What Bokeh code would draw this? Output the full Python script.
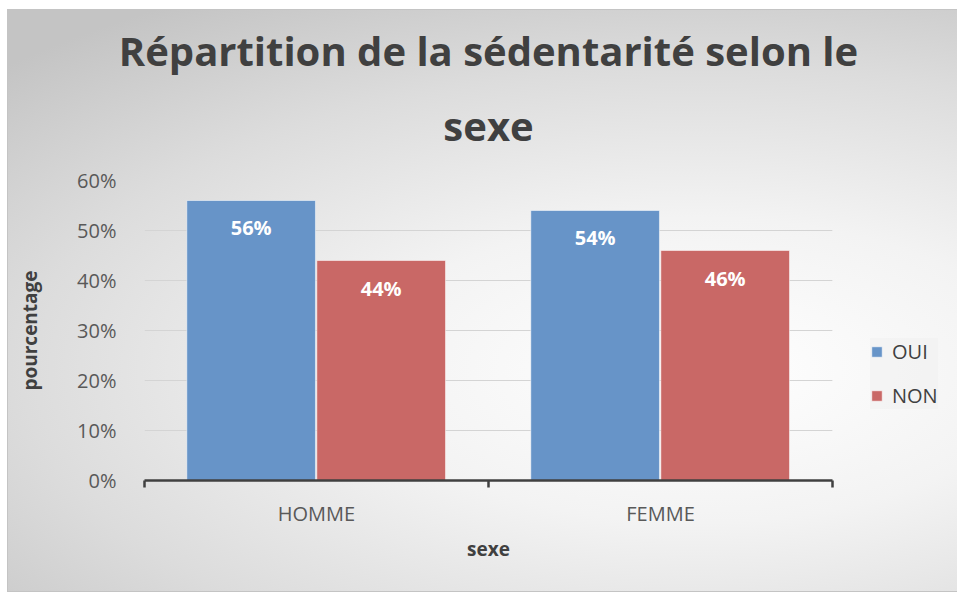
from bokeh.plotting import figure
from bokeh.models import (ColumnDataSource, FactorRange, Range1d, LinearAxis, CategoricalAxis,
                          FixedTicker, NumeralTickFormatter, Legend, LegendItem, Title, Grid)
from bokeh.transform import dodge
from bokeh.core.properties import value
from bokeh.embed import file_html
from bokeh.resources import INLINE

# ---- data ----
sexes = ["HOMME", "FEMME"]
oui = [0.56, 0.54]
non = [0.44, 0.46]
oui_labels = ["56%", "54%"]
non_labels = ["44%", "46%"]
y_ticks = [0, 0.1, 0.2, 0.3, 0.4, 0.5, 0.6]
title_line1 = "Répartition de la sédentarité selon le"
title_line2 = "sexe"

BLUE = "#6794c8"
RED = "#c96866"
FONT = "Open Sans"

src = ColumnDataSource(dict(sexe=sexes, oui=oui, non=non, oui_lab=oui_labels, non_lab=non_labels))

p = figure(width=950, height=583, x_range=FactorRange(*sexes), y_range=Range1d(0, 0.6),
           output_backend="svg", toolbar_location=None, x_axis_location=None,
           y_axis_location=None, title=None)
p.frame_width = 688
p.frame_height = 300
p.min_border_left = 136
p.min_border_right = 124
p.min_border_top = 170
p.min_border_bottom = 111
p.background_fill_alpha = 0
p.border_fill_alpha = 0
p.outline_line_color = None
p.styles = {"background": "radial-gradient(ellipse 70% 75% at 50% 62%, #ffffff 0%, #f3f3f3 35%, #dcdcdc 70%, #c4c4c4 100%)",
            "border": "1px solid #c4c4c4", "box-sizing": "border-box",
            "margin-left": "7px", "margin-top": "9px"}

# bars
r_oui = p.vbar(x=dodge("sexe", -0.19, range=p.x_range), top="oui", width=0.374, source=src,
               fill_color=BLUE, line_color="white", line_alpha=0.5)
r_non = p.vbar(x=dodge("sexe", 0.188, range=p.x_range), top="non", width=0.374, source=src,
               fill_color=RED, line_color="white", line_alpha=0.5)

# data labels
p.text(x=dodge("sexe", -0.19, range=p.x_range), y="oui", text="oui_lab", source=src,
       text_font=value(FONT), text_font_style="bold", text_font_size="20px", text_color="white",
       text_align="center", text_baseline="middle", y_offset=27)
p.text(x=dodge("sexe", 0.188, range=p.x_range), y="non", text="non_lab", source=src,
       text_font=value(FONT), text_font_style="bold", text_font_size="20px", text_color="white",
       text_align="center", text_baseline="middle", y_offset=28)

# grid
p.xgrid.visible = False

# y axis
yax = LinearAxis(ticker=FixedTicker(ticks=y_ticks), formatter=NumeralTickFormatter(format="0%"))
yax.axis_line_color = None
yax.major_tick_line_color = None
yax.minor_tick_line_color = None
yax.major_label_standoff = 22
yax.major_label_text_font = FONT
yax.major_label_text_font_size = "20px"
yax.major_label_text_color = "#595959"
yax.axis_label = "pourcentage"
yax.axis_label_text_font = FONT
yax.axis_label_text_font_style = "bold"
yax.axis_label_text_font_size = "19px"
yax.axis_label_text_color = "#404040"
yax.axis_label_standoff = 31
p.add_layout(yax, "left")
p.add_layout(Grid(dimension=1, ticker=yax.ticker, grid_line_color="#d4d4d4", grid_line_width=1))

# x axis line with ticks at category boundaries (synthetic coordinates 0, 1, 2)
tax = LinearAxis(ticker=FixedTicker(ticks=[0, 1, 2]))
tax.axis_line_color = "#404040"
tax.axis_line_width = 2.5
tax.major_tick_line_color = "#404040"
tax.major_tick_line_width = 2.5
tax.major_tick_out = 7
tax.major_tick_in = 0
tax.minor_tick_line_color = None
tax.major_label_overrides = {0: "", 1: "", 2: ""}
tax.major_label_text_alpha = 0
tax.major_label_text_font_size = "1px"
tax.major_label_standoff = 0
p.add_layout(tax, "below")

cax = CategoricalAxis()
cax.axis_line_color = None
cax.major_tick_line_color = None
cax.minor_tick_line_color = None
cax.major_label_standoff = 6
cax.major_label_text_font = FONT
cax.major_label_text_font_size = "20px"
cax.major_label_text_color = "#595959"
cax.axis_label = "sexe"
cax.axis_label_text_font = FONT
cax.axis_label_text_font_style = "bold"
cax.axis_label_text_font_size = "19px"
cax.axis_label_text_color = "#404040"
cax.axis_label_standoff = 6
p.add_layout(cax, "below")

# titles (two centred lines)
t2 = Title(text=title_line2, align="center", text_font=FONT, text_font_style="bold",
           text_font_size="40px", text_color="#404040", standoff=56)
t1 = Title(text=title_line1, align="center", text_font=FONT, text_font_style="bold",
           text_font_size="40px", text_color="#404040")
try:
    t1.standoff = -21
except Exception:
    t1.standoff = 0
p.add_layout(t2, "above")
p.add_layout(t1, "above")

# legend in the right panel
legend = Legend(items=[LegendItem(label="OUI", renderers=[r_oui]),
                       LegendItem(label="NON", renderers=[r_non])],
                location=(38, 71), orientation="vertical")
legend.label_text_font = FONT
legend.label_text_font_size = "20px"
legend.label_text_color = "#404040"
legend.glyph_width = 13
legend.glyph_height = 13
legend.spacing = 17
legend.padding = 12
legend.label_standoff = 9
legend.margin = 0
legend.background_fill_color = "#f0f0f0"
legend.background_fill_alpha = 0.5
legend.border_line_color = None
p.add_layout(legend, "right")

open("out.html", "w").write(file_html(p, INLINE))
